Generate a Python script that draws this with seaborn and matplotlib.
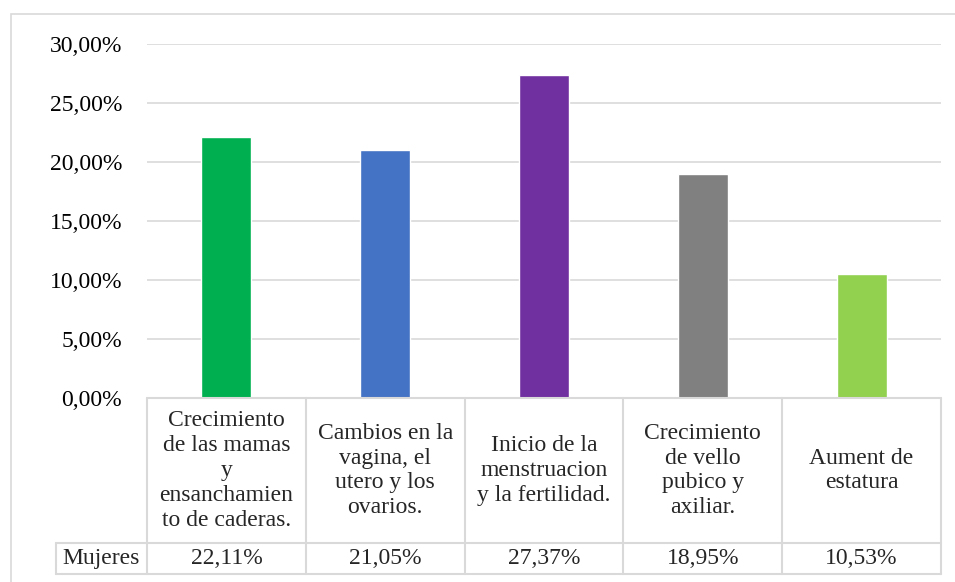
import matplotlib
matplotlib.use("Agg")
import matplotlib.pyplot as plt
import matplotlib.patches as mpatches
import seaborn as sns
import pandas as pd
from matplotlib.ticker import FuncFormatter

categorias = [
    "Crecimiento\nde las mamas\ny\nensanchamien\nto de caderas.",
    "Cambios en la\nvagina, el\nutero y los\novarios.",
    "Inicio de la\nmenstruacion\ny la fertilidad.",
    "Crecimiento\nde vello\npubico y\naxiliar.",
    "Aument de\nestatura",
]
mujeres = [22.11, 21.05, 27.37, 18.95, 10.53]
serie = "Mujeres"
colores = ["#00B050", "#4472C4", "#7030A0", "#808080", "#92D050"]

df = pd.DataFrame({"cat": categorias, "val": [v / 100 for v in mujeres]})

sns.set_style("white")
plt.rcParams["font.family"] = ["Liberation Serif", "DejaVu Serif"]
fs = 17
grid_c = "#D9D9D9"

fig = plt.figure(figsize=(9.55, 5.82), dpi=100)
ax = fig.add_axes([147 / 955, 1 - 398 / 582, 794 / 955, 354 / 582])

sns.barplot(data=df, x="cat", y="val", hue="cat", palette=colores,
            width=0.315, legend=False, ax=ax, saturation=1)

ax.set_ylim(0, 0.30)
ax.set_xlim(-0.5, len(categorias) - 0.5)
ax.set_yticks([0, 0.05, 0.10, 0.15, 0.20, 0.25, 0.30])
ax.yaxis.set_major_formatter(FuncFormatter(lambda v, p: f"{v * 100:.2f}%".replace(".", ",")))
ax.tick_params(axis="y", length=0, pad=18, labelsize=fs, colors="black")
ax.set_xticks([])
ax.set_xlabel("")
ax.set_ylabel("")
ax.grid(axis="y", color=grid_c, linewidth=1.2)
ax.set_axisbelow(True)
for s in ax.spines.values():
    s.set_visible(False)

# data table under the plot
tr = ax.get_xaxis_transform()
y_top, y_mid, y_bot = 0.0, -0.4096, -0.497
x_lab = -0.5 - 91 / 158.8
lw = 1.5
ax.plot([-0.5, 4.5], [y_top, y_top], transform=tr, color=grid_c, lw=lw, clip_on=False)
ax.plot([x_lab, 4.5], [y_mid, y_mid], transform=tr, color=grid_c, lw=lw, clip_on=False)
ax.plot([x_lab, 4.5], [y_bot, y_bot], transform=tr, color=grid_c, lw=lw, clip_on=False)
ax.plot([x_lab, x_lab], [y_mid, y_bot], transform=tr, color=grid_c, lw=lw, clip_on=False)
for i in range(len(categorias) + 1):
    ax.plot([i - 0.5, i - 0.5], [y_top, y_bot], transform=tr, color=grid_c, lw=lw, clip_on=False)

for i, (c, v) in enumerate(zip(categorias, mujeres)):
    ax.text(i, (y_top + y_mid) / 2, c, transform=tr, ha="center", va="center",
            fontsize=fs, linespacing=1.24, clip_on=False)
    ax.text(i, (y_mid + y_bot) / 2, f"{v:.2f}%".replace(".", ","), transform=tr,
            ha="center", va="center", fontsize=fs, clip_on=False)
ax.text((x_lab - 0.5) / 2, (y_mid + y_bot) / 2, serie, transform=tr,
        ha="center", va="center", fontsize=fs, clip_on=False)

# chart area border
fig.patches.append(mpatches.Rectangle((11 / 955, -0.05), 1.1, 1 - 14 / 582 + 0.05,
                                      transform=fig.transFigure, fill=False,
                                      edgecolor=grid_c, lw=1.2))

fig.savefig("out.png", dpi=100)
